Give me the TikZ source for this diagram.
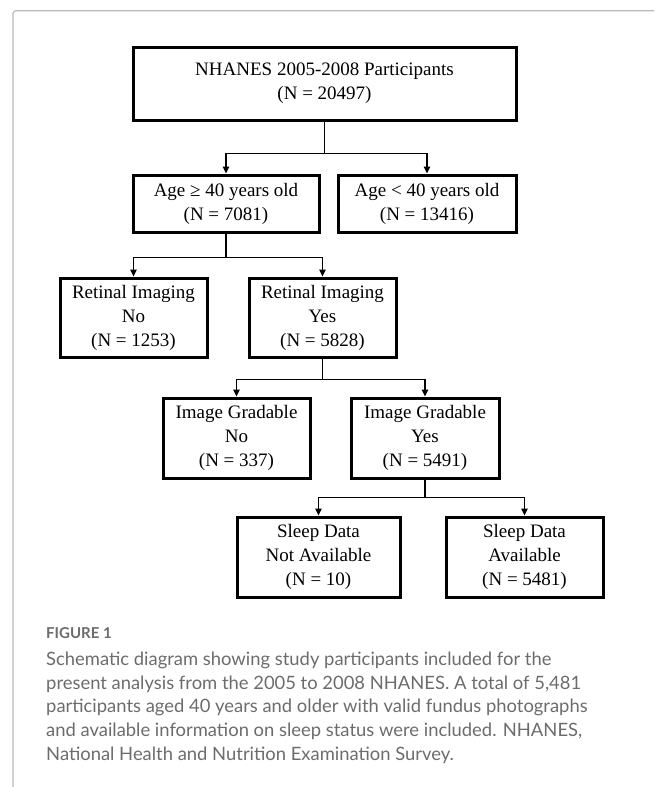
\documentclass[tikz,border=0pt]{standalone}
\usepackage{fontspec}
\setmainfont{Liberation Serif}
\newfontfamily\captionfont{Lato}
\usetikzlibrary{arrows.meta}
\definecolor{framegray}{RGB}{185,185,185}
\definecolor{capgray}{RGB}{108,108,108}

\begin{document}
\begin{tikzpicture}[x=1pt, y=-1pt,
    box/.style={draw, line width=3pt, align=center, inner sep=0pt, font=\fontsize{19}{24}\selectfont},
    conn/.style={line width=1.3pt},
    arr/.style={conn, -{Triangle[length=7pt, width=6.5pt]}}]
    \useasboundingbox (0,0) rectangle (654,787);

    % Marco
    \draw[framegray, line width=1.2pt, rounded corners=3pt] (13,787) -- (13,10.7) -- (654,10.7);

    % Cajas
    \node[box, minimum width=383pt, minimum height=73pt] (all) at (324.5,83.5) {NHANES 2005-2008 Participants\\(N = 20497)};
    \node[box, minimum width=186pt, minimum height=57pt] (agehi) at (226,203.5) {Age ≥ 40 years old\\(N = 7081)};
    \node[box, minimum width=178pt, minimum height=57pt] (agelo) at (427,203.5) {Age < 40 years old\\(N = 13416)};
    \node[box, minimum width=147pt, minimum height=79pt] (retno) at (133.5,317.5) {Retinal Imaging\\No\\(N = 1253)};
    \node[box, minimum width=147pt, minimum height=79pt] (retyes) at (322.5,317.5) {Retinal Imaging\\Yes\\(N = 5828)};
    \node[box, minimum width=147pt, minimum height=80pt] (gradno) at (236.5,438) {Image Gradable\\No\\(N = 337)};
    \node[box, minimum width=148pt, minimum height=80pt] (gradyes) at (425,438) {Image Gradable\\Yes\\(N = 5491)};
    \node[box, minimum width=163pt, minimum height=80pt] (sleepno) at (318.5,557) {Sleep Data\\Not Available\\(N = 10)};
    \node[box, minimum width=157pt, minimum height=80pt] (sleepyes) at (524.5,557) {Sleep Data\\Available\\(N = 5481)};

    % Conectores
    \draw[conn] (all.south) -- ++(0,32) coordinate (j1);
    \draw[arr] (j1) -| (agehi.north);
    \draw[arr] (j1) -| (agelo.north);

    \draw[conn] (agehi.south) -- ++(0,24) coordinate (j2);
    \draw[arr] (j2) -| (retno.north);
    \draw[arr] (j2) -| (retyes.north);

    \draw[conn] (retyes.south) -- ++(0,21) coordinate (j3);
    \draw[arr] (j3) -| (gradno.north);
    \draw[arr] (j3) -| (gradyes.north);

    \draw[conn] (gradyes.south) -- ++(0,18) coordinate (j4);
    \draw[arr] (j4) -| (sleepno.north);
    \draw[arr] (j4) -| (sleepyes.north);

    % Leyenda
    \node[anchor=north west, inner sep=0pt, text=capgray, font=\captionfont\bfseries\fontsize{15}{18}\selectfont] (fig) at (46,627) {FIGURE 1};
    \node[anchor=north west, inner sep=0pt, align=left, text=capgray, font=\captionfont\fontsize{18.4}{23.8}\selectfont] (cap) at (46,651.5) {Schematic diagram showing study participants included for the\\present analysis from the 2005 to 2008 NHANES. A total of 5,481\\participants aged 40 years and older with valid fundus photographs\\and available information on sleep status were included. NHANES,\\National Health and Nutrition Examination Survey.};
\end{tikzpicture}
\end{document}
